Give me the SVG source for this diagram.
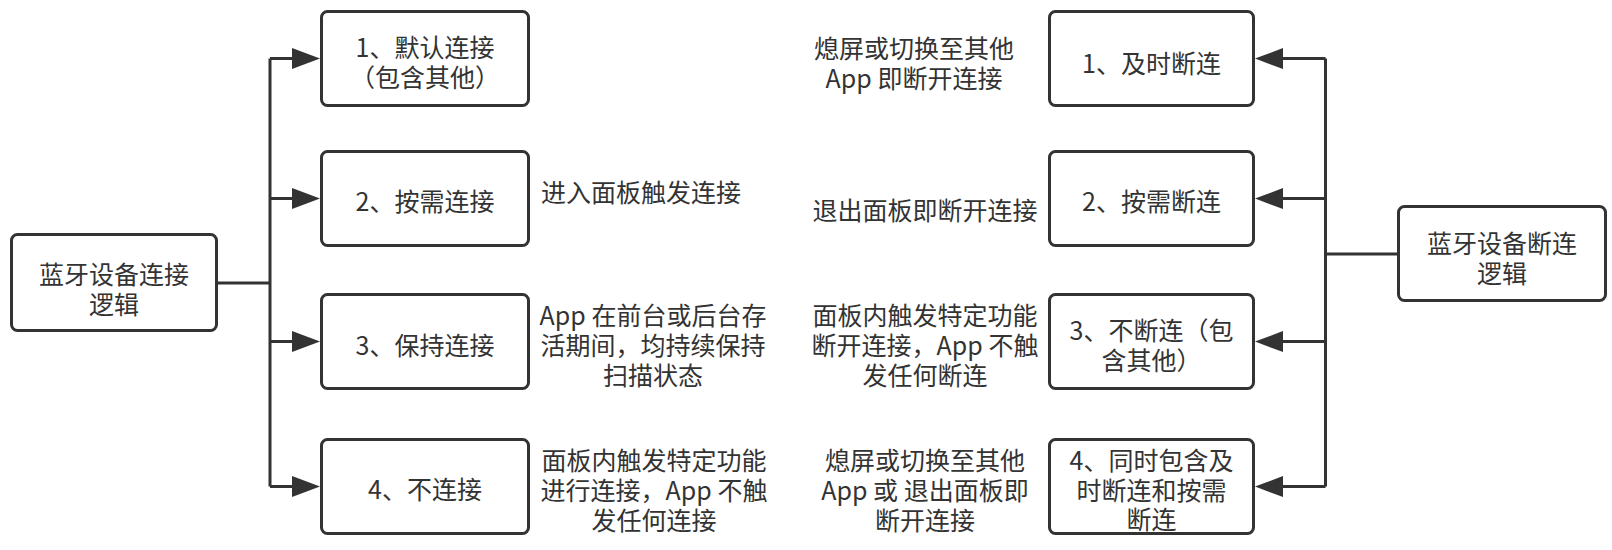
<svg xmlns="http://www.w3.org/2000/svg" width="1612" height="550" viewBox="0 0 1612 550">
<style>
.box{fill:#fff;stroke:#333;stroke-width:3}
.ln{fill:none;stroke:#333;stroke-width:3}
text{font-family:"Noto Sans CJK SC","Noto Sans",sans-serif;font-size:25px;fill:#333;text-anchor:middle}
.st{text-anchor:start}
</style>
<defs>
<marker id="arr" markerUnits="userSpaceOnUse" markerWidth="28" markerHeight="21" refX="18" refY="10.5" orient="auto">
<path d="M0,0 L28,10.5 L0,21 z" fill="#333"/>
</marker>
</defs>
<rect width="1612" height="550" fill="#fff"/>
<g id="connectors">
<path class="ln" d="M218,283 H270 M270,58.5 V486.5"/>
<path class="ln" d="M270,58.5 H310" marker-end="url(#arr)"/>
<path class="ln" d="M270,198.5 H310" marker-end="url(#arr)"/>
<path class="ln" d="M270,341.5 H310" marker-end="url(#arr)"/>
<path class="ln" d="M270,486.5 H310" marker-end="url(#arr)"/>
<path class="ln" d="M1397,254 H1325.5 M1325.5,58.5 V486.5"/>
<path class="ln" d="M1325.5,58.5 H1265" marker-end="url(#arr)"/>
<path class="ln" d="M1325.5,198.5 H1265" marker-end="url(#arr)"/>
<path class="ln" d="M1325.5,341.5 H1265" marker-end="url(#arr)"/>
<path class="ln" d="M1325.5,486.5 H1265" marker-end="url(#arr)"/>
</g>
<g id="connect-main">
<rect class="box" x="11.5" y="234.5" width="205" height="96" rx="6"/>
<text x="114" y="283.5">蓝牙设备连接</text>
<text x="114" y="313.5">逻辑</text>
</g>
<g id="connect-1">
<rect class="box" x="321.5" y="11.5" width="207" height="94" rx="6"/>
<text x="425" y="57">1、默认连接</text>
<text x="425" y="87">（包含其他）</text>
</g>
<g id="connect-2">
<rect class="box" x="321.5" y="151.5" width="207" height="94" rx="6"/>
<text x="425" y="210.5">2、按需连接</text>
</g>
<g id="connect-3">
<rect class="box" x="321.5" y="294.5" width="207" height="94" rx="6"/>
<text x="425" y="354.5">3、保持连接</text>
</g>
<g id="connect-4">
<rect class="box" x="321.5" y="439.5" width="207" height="94" rx="6"/>
<text x="425" y="498.5">4、不连接</text>
</g>
<g id="connect-notes">
<text class="st" x="541" y="201.5">进入面板触发连接</text>
<text x="653" y="324.5">App 在前台或后台存</text>
<text x="653" y="354.5">活期间，均持续保持</text>
<text x="653" y="384.5">扫描状态</text>
<text x="654" y="469.5">面板内触发特定功能</text>
<text x="654" y="499.5">进行连接，App 不触</text>
<text x="654" y="529.5">发任何连接</text>
</g>
<g id="disconnect-main">
<rect class="box" x="1398.5" y="206.5" width="207" height="94" rx="6"/>
<text x="1502" y="253">蓝牙设备断连</text>
<text x="1502" y="283">逻辑</text>
</g>
<g id="disconnect-1">
<rect class="box" x="1049.5" y="11.5" width="204" height="94" rx="6"/>
<text x="1151.5" y="72.5">1、及时断连</text>
</g>
<g id="disconnect-2">
<rect class="box" x="1049.5" y="151.5" width="204" height="94" rx="6"/>
<text x="1151.5" y="211">2、按需断连</text>
</g>
<g id="disconnect-3">
<rect class="box" x="1049.5" y="294.5" width="204" height="94" rx="6"/>
<text x="1151.5" y="339.5">3、不断连（包</text>
<text x="1151.5" y="369.5">含其他）</text>
</g>
<g id="disconnect-4">
<rect class="box" x="1049.5" y="439.5" width="204" height="94" rx="6"/>
<text x="1151.5" y="469.5">4、同时包含及</text>
<text x="1151.5" y="499.5">时断连和按需</text>
<text x="1151.5" y="528.5">断连</text>
</g>
<g id="disconnect-notes">
<text x="914" y="57.5">熄屏或切换至其他</text>
<text x="914" y="87.5">App 即断开连接</text>
<text x="925" y="219.5">退出面板即断开连接</text>
<text x="925" y="324.5">面板内触发特定功能</text>
<text x="925" y="354.5">断开连接，App 不触</text>
<text x="925" y="384.5">发任何断连</text>
<text x="925" y="469.5">熄屏或切换至其他</text>
<text x="925" y="499.5">App 或 退出面板即</text>
<text x="925" y="529.5">断开连接</text>
</g>
</svg>
